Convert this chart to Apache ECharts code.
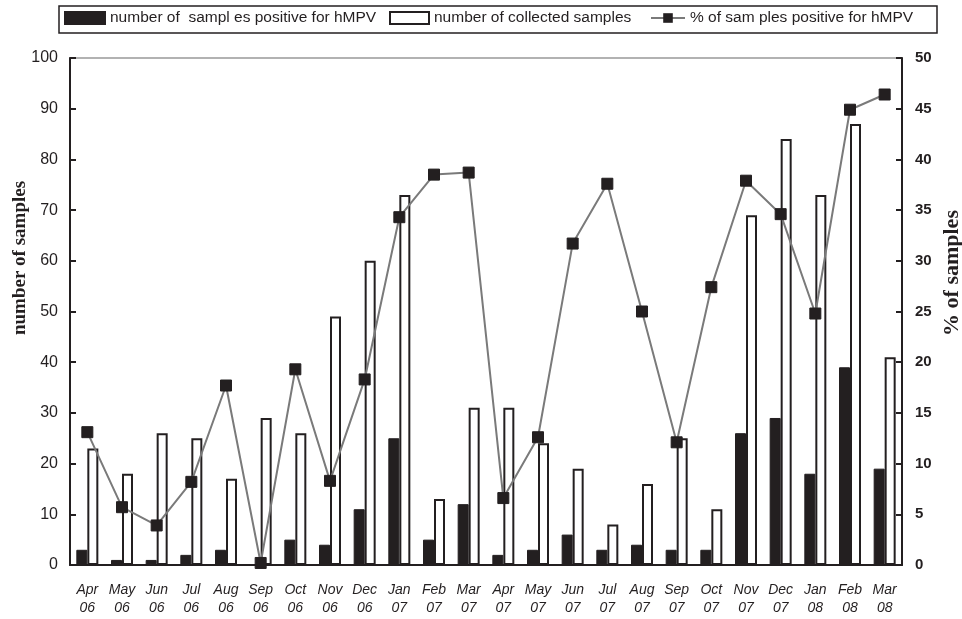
<!DOCTYPE html>
<html>
<head>
<meta charset="utf-8">
<script src="https://cdn.jsdelivr.net/npm/echarts@6/dist/echarts.min.js"></script>
<style>html,body{margin:0;padding:0;background:#fff}#c{width:962px;height:619px}</style>
</head>
<body>
<div id="c"></div>
<script>
var months = ['Apr','May','Jun','Jul','Aug','Sep','Oct','Nov','Dec','Jan','Feb','Mar','Apr','May','Jun','Jul','Aug','Sep','Oct','Nov','Dec','Jan','Feb','Mar'];
var years = ['06','06','06','06','06','06','06','06','06','07','07','07','07','07','07','07','07','07','07','07','07','08','08','08'];
var positive = [3,1,1,2,3,0,5,4,11,25,5,12,2,3,6,3,4,3,3,26,29,18,39,19];
var collected = [23,18,26,25,17,29,26,49,60,73,13,31,31,24,19,8,16,25,11,69,84,73,87,41];
var percent = [13.1,5.7,3.9,8.2,17.7,0.2,19.3,8.3,18.3,34.3,38.5,38.7,6.6,12.6,31.7,37.6,25.0,12.1,27.4,37.9,34.6,24.8,44.9,46.4];
var leftTicks = [0,10,20,30,40,50,60,70,80,90,100];
var rightTicks = [0,5,10,15,20,25,30,35,40,45,50];
var names = ['number of  sampl es positive for hMPV','number of collected samples','% of sam ples positive for hMPV'];

var categories = months.map(function(m,i){return m+'\n'+years[i];});
var ink = '#231f20';
var legendText = {fontSize:15.5, color:ink};
function legendAt(left, name, icon, w){
  var d = {name:name}; if(icon) d.icon = icon;
  return {left:left, top:10, padding:0, itemWidth:w, itemHeight:12, textStyle:legendText, data:[d], selectedMode:false};
}
var chart = echarts.init(document.getElementById('c'));
chart.setOption({
  animation:false,
  textStyle:{fontFamily:'Liberation Sans, Arial, sans-serif'},
  legend:[
    legendAt(64, names[0], 'rect', 40),
    legendAt(389, names[1], 'rect', 39),
    legendAt(650, names[2], null, 34)
  ],
  grid:{left:70,right:60,top:58,bottom:54,show:true,borderColor:'#999',borderWidth:1.5,containLabel:false},
  xAxis:{
    type:'category', data:categories,
    axisLine:{lineStyle:{color:ink,width:2}},
    axisTick:{show:false},
    axisLabel:{interval:0, fontSize:14, fontStyle:'italic', color:ink, margin:16, lineHeight:18}
  },
  yAxis:[
    {type:'value', min:leftTicks[0], max:leftTicks[leftTicks.length-1], interval:10,
     axisLine:{show:true,lineStyle:{color:ink,width:2}},
     axisTick:{show:true,inside:true,length:6,lineStyle:{color:ink,width:2}},
     axisLabel:{fontSize:16,color:ink,margin:12},
     splitLine:{show:false}},
    {type:'value', min:rightTicks[0], max:rightTicks[rightTicks.length-1], interval:5, position:'right',
     axisLine:{show:true,lineStyle:{color:ink,width:2}},
     axisTick:{show:true,inside:true,length:6,lineStyle:{color:ink,width:2}},
     axisLabel:{fontSize:15,fontWeight:'bold',color:ink,margin:13},
     splitLine:{show:false}}
  ],
  graphic:[
    {type:'rect', shape:{x:59, y:6, width:878, height:27}, style:{fill:'none', stroke:ink, lineWidth:1.5}, silent:true},
    {type:'text', x:20, y:258, rotation:Math.PI/2,
     style:{text:'number of samples', font:'bold 19px "Liberation Serif", "Times New Roman", serif', fill:ink, align:'center', verticalAlign:'middle'}},
    {type:'text', x:952, y:273, rotation:Math.PI/2,
     style:{text:'% of samples', font:'bold 22px "Liberation Serif", "Times New Roman", serif', fill:ink, align:'center', verticalAlign:'middle'}}
  ],
  series:[
    {name:names[0], type:'bar', data:positive, barWidth:11, barGap:'0%',
     itemStyle:{color:ink, borderColor:ink, borderWidth:1}},
    {name:names[1], type:'bar', data:collected, barWidth:11, barGap:'0%',
     itemStyle:{color:'#fff', borderColor:ink, borderWidth:2}},
    {name:names[2], type:'line', yAxisIndex:1, data:percent, symbol:'rect', symbolSize:11,
     lineStyle:{color:'#7a7a7a',width:2}, itemStyle:{color:ink, borderColor:ink}, z:5}
  ]
});
</script>
</body>
</html>
